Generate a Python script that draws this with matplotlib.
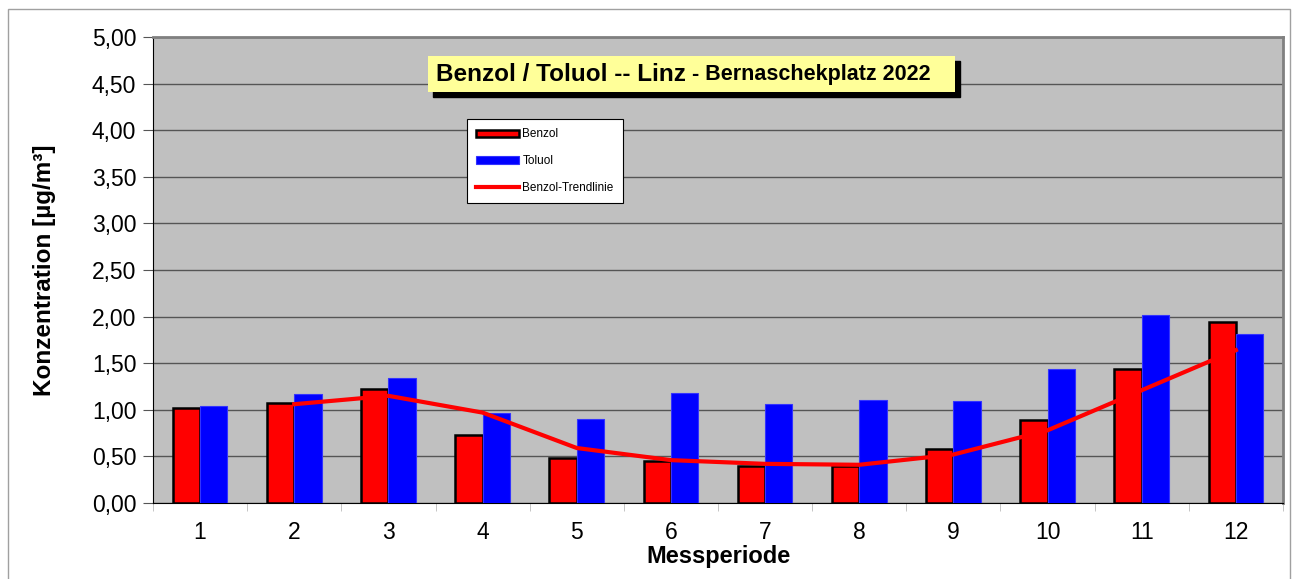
import matplotlib.pyplot as plt
import numpy as np
from matplotlib.patches import Rectangle
from matplotlib.ticker import FuncFormatter, MultipleLocator

perioden = [1, 2, 3, 4, 5, 6, 7, 8, 9, 10, 11, 12]
benzol = [1.02, 1.07, 1.22, 0.73, 0.48, 0.45, 0.40, 0.40, 0.58, 0.89, 1.44, 1.94]
toluol = [1.04, 1.17, 1.34, 0.97, 0.90, 1.18, 1.06, 1.10, 1.09, 1.44, 2.02, 1.81]
trend_perioden = [2, 3, 4, 5, 6, 7, 8, 9, 10, 11, 12]
trend = [1.06, 1.15, 0.97, 0.59, 0.46, 0.42, 0.41, 0.52, 0.78, 1.21, 1.64]

plt.rcParams['font.family'] = ['Liberation Sans', 'DejaVu Sans']

fig = plt.figure(figsize=(12.94, 5.79), dpi=100)
fig.patches.append(Rectangle((8 / 1294, -0.01), 1282 / 1294, 1 - 9 / 579 + 0.01,
                             transform=fig.transFigure, fill=False,
                             edgecolor='#a0a0a0', lw=1))
ax = fig.add_axes([153 / 1294, 1 - 503 / 579, 1130 / 1294, 466 / 579])
ax.set_facecolor('#c0c0c0')

x = np.array(perioden)
w = 0.29
b1 = ax.bar(x - w / 2, benzol, w, color='#ff0000', edgecolor='black', lw=1.8,
            label='Benzol', zorder=3)
b2 = ax.bar(x + w / 2, toluol, w, color='#0000ff', edgecolor='#3333ff', lw=0.8,
            label='Toluol', zorder=3)
l1, = ax.plot(trend_perioden, trend, color='#ff0000', lw=3,
              label='Benzol-Trendlinie', zorder=4)

ax.set_xlim(0.5, 12.5)
ax.set_ylim(0, 5)
ax.yaxis.set_major_locator(MultipleLocator(0.5))
ax.yaxis.set_major_formatter(FuncFormatter(lambda v, p: f'{v:.2f}'.replace('.', ',')))
ax.grid(axis='y', color='#555555', lw=1, zorder=0)
ax.set_xticks(perioden)
ax.set_xticks(np.arange(0.5, 12.6, 1), minor=True)
ax.tick_params(axis='x', which='major', length=0, labelsize=16.5, pad=13)
ax.tick_params(axis='x', which='minor', length=6, color='#bbbbbb', direction='out')
ax.tick_params(axis='y', length=7, labelsize=16.5, color='#555555', pad=5)
for s in ['top', 'right']:
    ax.spines[s].set_color('#808080')
    ax.spines[s].set_linewidth(2)
ax.spines['left'].set_color('black')
ax.spines['bottom'].set_color('black')

ax.set_xlabel('Messperiode', fontsize=17, fontweight='bold', va='center')
ax.xaxis.set_label_coords(0.5, -(557 - 503) / 466)
ax.set_ylabel('Konzentration [µg/m³]', fontsize=17.5, fontweight='bold', va='center')
ax.yaxis.set_label_coords(-(153 - 45) / 1130, 0.5)

# title box with shadow
bx0, by0 = (428 - 153) / 1130, (503 - 92) / 466
bw, bh = (955 - 428) / 1130, 36 / 466
ax.add_patch(Rectangle((bx0 + 0.004, by0 - 0.01), bw, bh, transform=ax.transAxes,
                       color='black', zorder=5))
ax.add_patch(Rectangle((bx0, by0), bw, bh, transform=ax.transAxes,
                       facecolor='#ffff99', edgecolor='none', zorder=6))
t1 = ax.text(bx0 + 0.007, by0 + bh / 2 - 0.002, 'Benzol / Toluol -- Linz',
             transform=ax.transAxes, fontsize=17.5, fontweight='bold',
             va='center', ha='left', zorder=7)
ax.annotate(' - Bernaschekplatz 2022', xy=(1, 0.5), xycoords=t1, fontsize=15.5,
            fontweight='bold', va='center', ha='left', zorder=7)

leg = ax.legend([b1, b2, l1], ['Benzol', 'Toluol', 'Benzol-Trendlinie'],
                loc='upper left',
                bbox_to_anchor=((467 - 153) / 1130, (503 - 119) / 466),
                borderaxespad=0,
                fontsize=8.5, frameon=True, fancybox=False, edgecolor='black',
                framealpha=1, handlelength=3.6, handleheight=0.6,
                labelspacing=1.25, borderpad=0.8, handletextpad=0.3)
leg.get_frame().set_linewidth(0.8)
leg.set_zorder(8)

fig.savefig('out.png', dpi=100)
